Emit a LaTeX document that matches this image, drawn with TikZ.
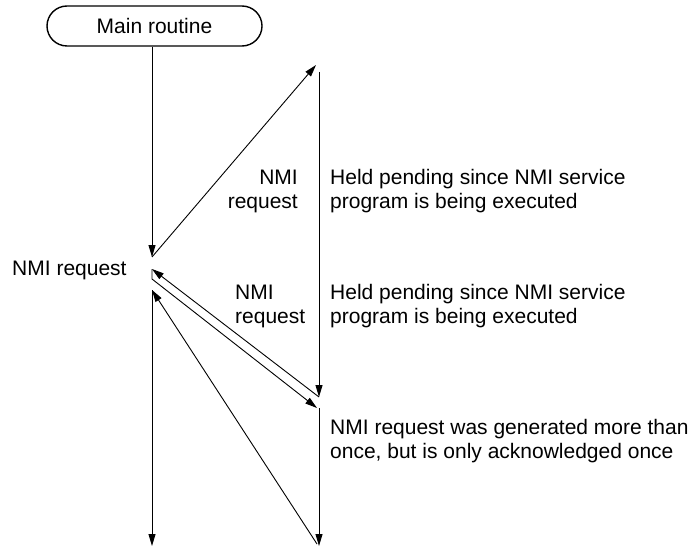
\documentclass[tikz,border=0pt]{standalone}
\usepackage{fontspec}
\setmainfont{Liberation Sans}
\usetikzlibrary{arrows.meta}
\tikzset{
  routine/.style={rectangle, rounded corners=20pt, draw, line width=1.4pt,
                  minimum width=215pt, minimum height=40pt, inner sep=0pt,
                  font=\fontsize{21}{24}\selectfont},
  note/.style={inner sep=0pt, align=left, font=\fontsize{21}{24}\selectfont},
  signal/.style={-{Triangle[length=12pt,width=7pt]}, line width=0.9pt},
  plain/.style={line width=0.9pt}
}

\begin{document}
\begin{tikzpicture}[x=1pt, y=-1pt]
\useasboundingbox (0,0) rectangle (695,548);
\node[routine] (main) at (154.5,26) {Main routine};
% time points on the main routine line
\coordinate (start) at (152,46);
\coordinate (firstnmi) at (152,257);
\coordinate (back) at (152,269);
\coordinate (kink) at (152,279);
\coordinate (resume) at (152,290);
\coordinate (mainend) at (152,546);
% time points on the NMI service line
\coordinate (entry) at (316,65);
\coordinate (holdtop) at (319,72);
\coordinate (holdend) at (319,397);
\coordinate (again) at (317,408);
\coordinate (holdnext) at (319,408);
\coordinate (serviceend) at (319,546);
\coordinate (leave) at (317,544);
% labels
\node[note, anchor=base west] (nmilabel) at (12,275) {NMI request};
\node[note, align=right, anchor=east] (firstreq) at (298,191) {NMI\\request};
\node[note, anchor=west] (pendfirst) at (330,191) {Held pending since NMI service\\program is being executed};
\node[note, anchor=west] (secondreq) at (235,306) {NMI\\request};
\node[note, anchor=west] (pendsecond) at (330,306) {Held pending since NMI service\\program is being executed};
\node[note, anchor=west] (oncenote) at (330,441) {NMI request was generated more than\\once, but is only acknowledged once};
% connectors
\draw[signal] (main.south -| start) -- (firstnmi);
\draw[signal] (firstnmi) -- (entry);
\draw[signal] (holdtop) -- (holdend);
\draw[signal] (holdend) -- (back);
\draw[signal] (back) -- (kink) -- (again);
\draw[signal] (holdnext) -- (serviceend);
\draw[signal] (leave) -- (resume);
\draw[signal] (resume) -- (mainend);
\end{tikzpicture}
\end{document}
